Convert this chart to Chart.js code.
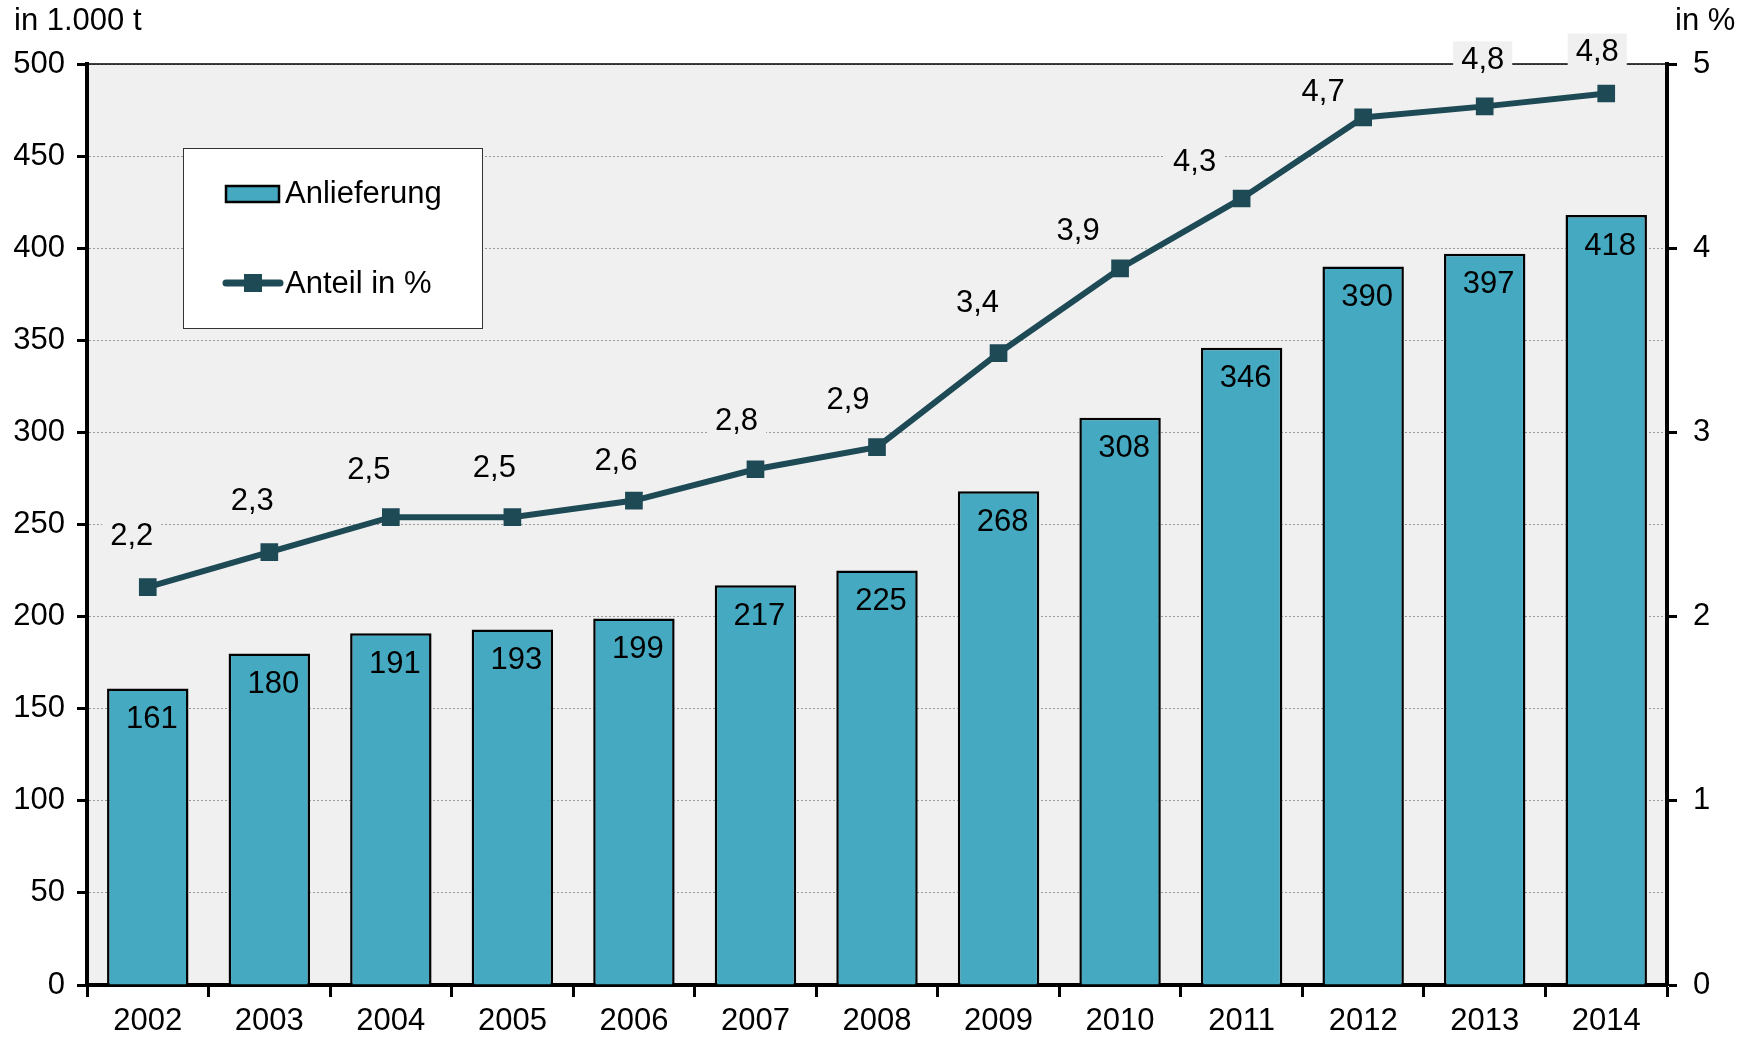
<!DOCTYPE html>
<html><head><meta charset="utf-8">
<script src="https://cdn.jsdelivr.net/npm/chart.js@4.4.1/dist/chart.umd.min.js"></script>
<style>html,body{margin:0;padding:0;background:#fff}#wrap{width:1748px;height:1038px;position:relative}</style>
</head><body><div id="wrap"><canvas id="c" width="1748" height="1038"></canvas></div>
<script>
const years = ['2002','2003','2004','2005','2006','2007','2008','2009','2010','2011','2012','2013','2014'];
const anlieferung = [161,180,191,193,199,217,225,268,308,346,390,397,418];
const anteil = [2.16,2.35,2.54,2.54,2.63,2.80,2.92,3.43,3.89,4.27,4.71,4.77,4.84];
const anteilLabels = ['2,2','2,3','2,5','2,5','2,6','2,8','2,9','3,4','3,9','4,3','4,7','4,8','4,8'];
const seriesNames = ['Anlieferung','Anteil in %'];
const axisTitles = ['in 1.000 t','in %'];
// text placement of the line labels relative to their point (layout only)
const anteilLabelShift = [[-16,-52],[-17,-52],[-22,-48],[-18,-50],[-18,-40],[-19,-49],[-29,-48],[-21,-51],[-42,-38],[-47,-37],[-40,-26],[-2,-47],[-9,-42]];

const FONT = "'Liberation Sans', Arial, sans-serif";
const FS = 31;
const BAR_COLOR = '#45a9c1';
const LINE_COLOR = '#1e4a56';
const PLOT_BG = '#f0f0f0';

Chart.defaults.font.family = FONT;
Chart.defaults.font.size = FS;
Chart.defaults.color = '#000';

const decor = {
  id: 'decor',
  beforeDraw(chart) {
    const {ctx, chartArea: a} = chart;
    ctx.save();
    ctx.fillStyle = PLOT_BG;
    ctx.fillRect(a.left, a.top, a.right - a.left, a.bottom - a.top);
    ctx.restore();
  },
  afterDatasetsDraw(chart) {
    const {ctx, chartArea: a} = chart;
    ctx.save();
    ctx.strokeStyle = '#000';
    ctx.lineWidth = 1.5;
    ctx.beginPath(); ctx.moveTo(a.left, a.top); ctx.lineTo(a.right, a.top); ctx.stroke();

    ctx.font = FS + 'px ' + FONT;
    ctx.textAlign = 'center';
    ctx.textBaseline = 'middle';
    const barMeta = chart.getDatasetMeta(1);
    barMeta.data.forEach((el, i) => {
      ctx.fillStyle = '#000';
      ctx.fillText(String(anlieferung[i]), el.x + 4, el.y + 31);
    });
    const lineMeta = chart.getDatasetMeta(0);
    lineMeta.data.forEach((el, i) => {
      const t = anteilLabels[i];
      const w = ctx.measureText(t).width + 16;
      const cx = el.x + anteilLabelShift[i][0], cy = el.y + anteilLabelShift[i][1];
      ctx.fillStyle = PLOT_BG;
      ctx.fillRect(cx - w / 2, cy - 18, w, 36);
      ctx.fillStyle = '#000';
      ctx.fillText(t, cx, cy + 1);
    });

    ctx.textAlign = 'left';
    ctx.fillText(axisTitles[0], 14, 21);
    ctx.fillText(axisTitles[1], 1675, 21);

    const lx = 183, ly = 148, lw = 299, lh = 180;
    ctx.fillStyle = '#fff';
    ctx.fillRect(lx, ly, lw, lh);
    ctx.strokeStyle = '#333';
    ctx.lineWidth = 1;
    ctx.strokeRect(lx + 0.5, ly + 0.5, lw, lh);
    const ds0 = chart.data.datasets[1], ds1 = chart.data.datasets[0];
    ctx.fillStyle = ds0.backgroundColor;
    ctx.fillRect(226, 186, 53, 16);
    ctx.strokeStyle = '#000'; ctx.lineWidth = 2.5;
    ctx.strokeRect(226, 186, 53, 16);
    ctx.fillStyle = '#000';
    ctx.fillText(ds0.label, 285, 194);
    ctx.strokeStyle = ds1.borderColor; ctx.lineWidth = 7; ctx.lineCap = 'round';
    ctx.beginPath(); ctx.moveTo(226, 283); ctx.lineTo(280, 283); ctx.stroke();
    ctx.fillStyle = ds1.borderColor;
    ctx.fillRect(244, 274, 18, 18);
    ctx.fillStyle = '#000';
    ctx.fillText(ds1.label, 285, 284);
    ctx.restore();
  }
};

new Chart(document.getElementById('c'), {
  type: 'bar',
  data: {
    labels: years,
    datasets: [
      {
        type: 'line', label: seriesNames[1], data: anteil, yAxisID: 'y2', order: 0,
        borderColor: LINE_COLOR, backgroundColor: LINE_COLOR, borderWidth: 6,
        pointStyle: 'rect', pointRadius: 12.5, pointBorderWidth: 0, pointBackgroundColor: LINE_COLOR,
        tension: 0, fill: false
      },
      {
        type: 'bar', label: seriesNames[0], data: anlieferung, yAxisID: 'y', order: 1,
        backgroundColor: BAR_COLOR, borderColor: '#000', borderWidth: 2.5,
        categoryPercentage: 1, barPercentage: 0.67
      }
    ]
  },
  options: {
    responsive: false,
    animation: false,
    devicePixelRatio: 1,
    layout: { padding: { top: 64, left: 0, right: 0, bottom: 0 } },
    plugins: { legend: { display: false }, tooltip: { enabled: false } },
    scales: {
      x: {
        grid: { offset: true, drawOnChartArea: false, drawTicks: true, tickLength: 12, tickColor: '#000', tickWidth: 3 },
        border: { display: true, color: '#000', width: 4 },
        ticks: { color: '#000', padding: 6, font: { size: FS }, maxRotation: 0 },
        afterFit: s => { s.height = 53; }
      },
      y: {
        position: 'left', min: 0, max: 500,
        ticks: { stepSize: 50, color: '#000', padding: 12, font: { size: FS } },
        grid: { color: '#9a9a9a', lineWidth: 1, drawTicks: true, tickLength: 10, tickColor: '#000', tickWidth: 3, tickBorderDash: [] },
        border: { display: true, color: '#000', width: 4, dash: [2, 2] },
        afterFit: s => { s.width = 87; }
      },
      y2: {
        position: 'right', min: 0, max: 5,
        ticks: { stepSize: 1, color: '#000', padding: 16, font: { size: FS } },
        grid: { drawOnChartArea: false, drawTicks: true, tickLength: 10, tickColor: '#000', tickWidth: 3 },
        border: { display: true, color: '#000', width: 4 },
        afterFit: s => { s.width = 81; }
      }
    }
  },
  plugins: [decor]
});
</script>
</body></html>
